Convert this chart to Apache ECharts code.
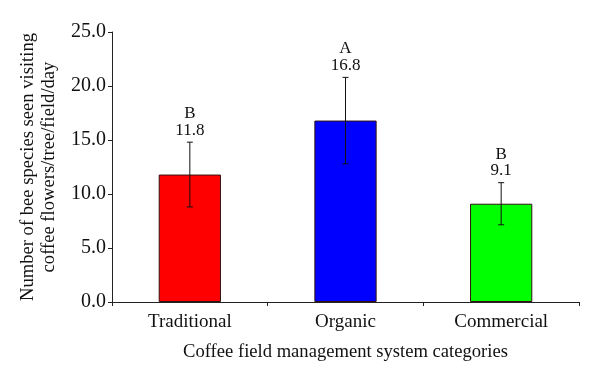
<!DOCTYPE html>
<html>
<head>
<meta charset="utf-8">
<script src="https://cdn.jsdelivr.net/npm/echarts@6/dist/echarts.min.js"></script>
<style>html,body{margin:0;padding:0;background:#fff}#c{width:600px;height:383px}</style>
</head>
<body>
<div id="c"></div>
<script>
var categories = ['Traditional', 'Organic', 'Commercial'];
var means = [11.8, 16.8, 9.1];
var errors = [3.0, 4.0, 1.95];
var letters = ['B', 'A', 'B'];
var barColors = ['#ff0000', '#0000ff', '#00ff00'];
var yTicks = [0, 5, 10, 15, 20, 25];

var FONT = 'Liberation Serif';
var chart = echarts.init(document.getElementById('c'), null, {renderer: 'canvas'});

var errData = categories.map(function (c, i) {
  return [i, means[i] - errors[i], means[i] + errors[i], means[i], letters[i]];
});

chart.setOption({
  animation: false,
  grid: {left: 112, right: 21, top: 32, bottom: 81, containLabel: false},
  xAxis: {
    type: 'category',
    data: categories,
    name: 'Coffee field management system categories',
    nameLocation: 'middle',
    nameGap: 41,
    nameTextStyle: {fontFamily: FONT, fontSize: 18.6, color: '#111'},
    axisLine: {lineStyle: {color: '#222', width: 1}},
    axisTick: {show: true, inside: false, length: 4, alignWithLabel: false, lineStyle: {color: '#222'}},
    axisLabel: {fontFamily: FONT, fontSize: 19, color: '#111', margin: 11}
  },
  yAxis: {
    type: 'value',
    min: yTicks[0],
    max: yTicks[yTicks.length - 1],
    interval: 5,
    name: 'Number of bee species seen visiting\ncoffee flowers/tree/field/day',
    nameLocation: 'middle',
    nameGap: 44,
    nameTextStyle: {fontFamily: FONT, fontSize: 18.6, color: '#111', lineHeight: 21},
    axisLine: {show: true, lineStyle: {color: '#222', width: 1}},
    axisTick: {show: true, inside: false, length: 4, lineStyle: {color: '#222'}},
    splitLine: {show: false},
    axisLabel: {fontFamily: FONT, fontSize: 20, color: '#111', margin: 6,
      formatter: function (v) { return v.toFixed(1); }}
  },
  series: [
    {
      type: 'bar',
      barWidth: '40%',
      data: means.map(function (v, i) {
        return {value: v, itemStyle: {color: barColors[i], borderColor: '#331111', borderWidth: 1}};
      })
    },
    {
      type: 'custom',
      data: errData,
      z: 10,
      renderItem: function (params, api) {
        var x = api.value(0);
        var lo = api.coord([x, api.value(1)]);
        var hi = api.coord([x, api.value(2)]);
        var cap = 3;
        var st = {stroke: '#111', lineWidth: 1};
        var i = params.dataIndex;
        return {
          type: 'group',
          children: [
            {type: 'line', shape: {x1: hi[0], y1: hi[1], x2: lo[0], y2: lo[1]}, style: st},
            {type: 'line', shape: {x1: hi[0] - cap, y1: hi[1], x2: hi[0] + cap, y2: hi[1]}, style: st},
            {type: 'line', shape: {x1: lo[0] - cap, y1: lo[1], x2: lo[0] + cap, y2: lo[1]}, style: st},
            {type: 'text', style: {text: means[i].toFixed(1), x: hi[0], y: hi[1] - 12,
              align: 'center', verticalAlign: 'middle', font: '17px "' + FONT + '"', fill: '#111'}},
            {type: 'text', style: {text: letters[i], x: hi[0], y: hi[1] - 28.5,
              align: 'center', verticalAlign: 'middle', font: '17px "' + FONT + '"', fill: '#111'}}
          ]
        };
      }
    }
  ]
});
</script>
</body>
</html>
